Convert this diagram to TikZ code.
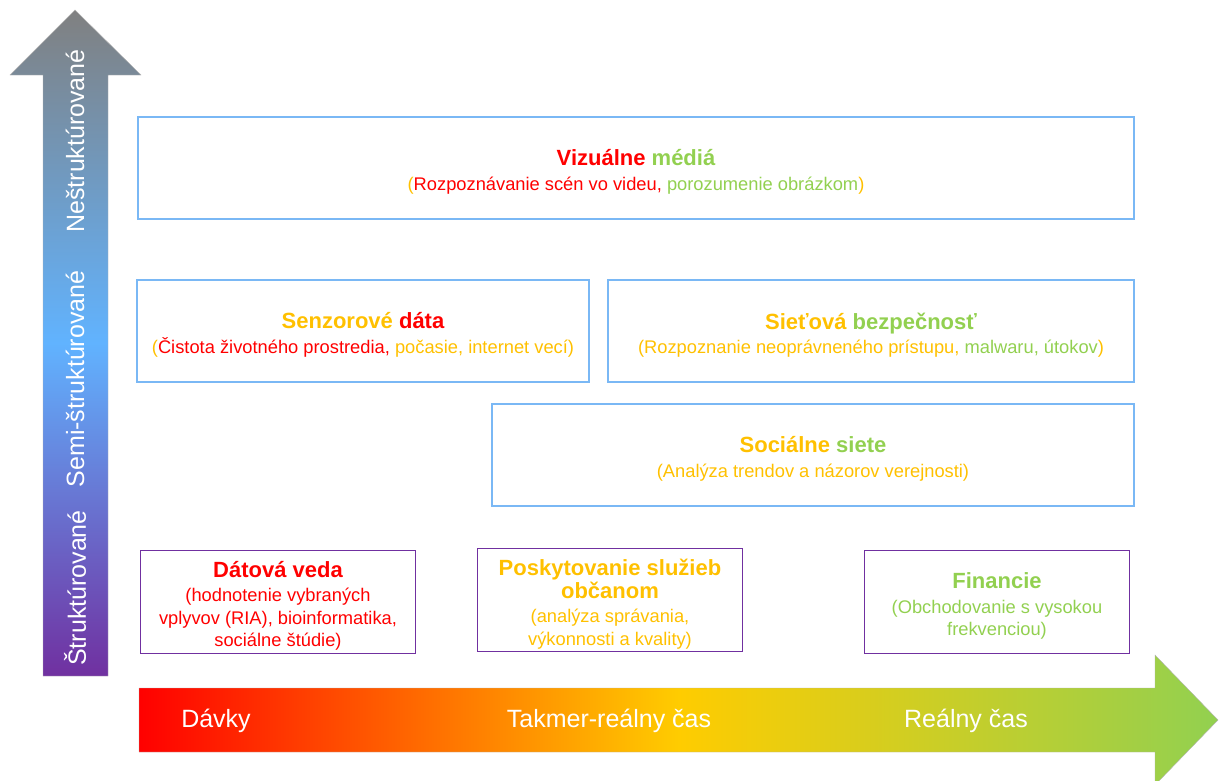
\documentclass[tikz,border=0pt]{standalone}
\usepackage{fontspec}
\setmainfont{Liberation Sans}
\usepackage{tikz}
\usetikzlibrary{calc}
\definecolor{tred}{HTML}{FF0000}
\definecolor{torange}{HTML}{FFC000}
\definecolor{tgreen}{HTML}{92D050}
\definecolor{tyellow}{HTML}{FFCC00}
\definecolor{tblue}{HTML}{7AB8F5}
\definecolor{tsky}{HTML}{61B3FF}
\definecolor{tpurple}{HTML}{7030A0}
\definecolor{tgray}{HTML}{808080}
\newcommand\boxtitle[1]{{\fontsize{22}{26}\selectfont\bfseries #1}}

\begin{document}
\begin{tikzpicture}[x=1pt,y=-1pt,
        bluebox/.style={draw=tblue,line width=1.5pt,minimum height=102pt},
        purplebox/.style={draw=tpurple,line width=1.5pt,minimum height=103pt,minimum width=265pt},
        boxtext/.style={align=center,font=\fontsize{18.3}{22.5}\selectfont,yshift=-4pt},
        axislabel/.style={text=white,font=\fontsize{25}{30}\selectfont}]
        \useasboundingbox (0,0) rectangle (1219,780);
        % vertical arrow
        \draw[draw=gray!60,top color=tgray,bottom color=tpurple,middle color=tsky]
            (43,676) -- (43,75) -- (10,75) -- (75,10) -- (141,75) -- (108,75) -- (108,676) -- cycle;
        \node[axislabel,rotate=90] (struct) at (75,588) {Štruktúrované};
        \node[axislabel,rotate=90] (semi) at (75,379) {Semi-štruktúrované};
        \node[axislabel,rotate=90] (nonstruct) at (75,141) {Neštruktúrované};
        % horizontal arrow
        \draw[draw=gray!60,left color=tred,right color=tgreen,middle color=tyellow]
            (139,688) -- (1155,688) -- (1155,655) -- (1218,720) -- (1155,785) -- (1155,752) -- (139,752) -- cycle;
        \node[axislabel] (batch) at (216,721) {Dávky};
        \node[axislabel] (nearreal) at (609,721) {Takmer-reálny čas};
        \node[axislabel] (real) at (966,721) {Reálny čas};
        % blue boxes
        \node[bluebox,minimum width=996pt] (visual) at (636,168) {};
        \node[boxtext] (visualtext) at (visual.center)
            {\boxtitle{\color{tred}Vizuálne \color{tgreen}médiá}\\[2pt]
             {\color{torange}(}{\color{tred}Rozpoznávanie scén vo videu, }{\color{tgreen}porozumenie obrázkom}{\color{torange})}};
        \node[bluebox,minimum width=452pt] (sensor) at (363,331) {};
        \node[boxtext] (sensortext) at (sensor.center)
            {\boxtitle{\color{torange}Senzorové \color{tred}dáta}\\[2pt]
             {\color{torange}(}{\color{tred}Čistota životného prostredia, }{\color{torange}počasie, internet vecí)}};
        \node[bluebox,minimum width=526pt] (network) at (871,331) {};
        \node[boxtext] (networktext) at (network.center)
            {\boxtitle{\color{torange}Sieťová \color{tgreen}bezpečnosť}\\[2pt]
             {\color{torange}(Rozpoznanie neoprávneného prístupu, }{\color{tgreen}malwaru, útokov}{\color{torange})}};
        \node[bluebox,minimum width=642pt] (social) at (813,455) {};
        \node[boxtext] (socialtext) at (social.center)
            {\boxtitle{\color{torange}Sociálne \color{tgreen}siete}\\[2pt]
             {\color{torange}(Analýza trendov a názorov verejnosti)}};
        % purple boxes
        \node[purplebox,minimum width=275pt] (science) at (278,602) {};
        \node[boxtext,text=tred] (sciencetext) at (science.center)
            {\boxtitle{Dátová veda}\\[2pt]
             (hodnotenie vybraných\\ vplyvov (RIA), bioinformatika,\\ sociálne štúdie)};
        \node[purplebox] (citizens) at (610,600) {};
        \node[boxtext,text=torange] (citizenstext) at (citizens.center)
            {\boxtitle{Poskytovanie služieb}\\ \boxtitle{občanom}\\[2pt]
             (analýza správania,\\ výkonnosti a kvality)};
        \node[purplebox] (finance) at (997,602) {};
        \node[boxtext,text=tgreen] (financetext) at (finance.center)
            {\boxtitle{Financie}\\[2pt]
             (Obchodovanie s vysokou\\ frekvenciou)};
\end{tikzpicture}
\end{document}
